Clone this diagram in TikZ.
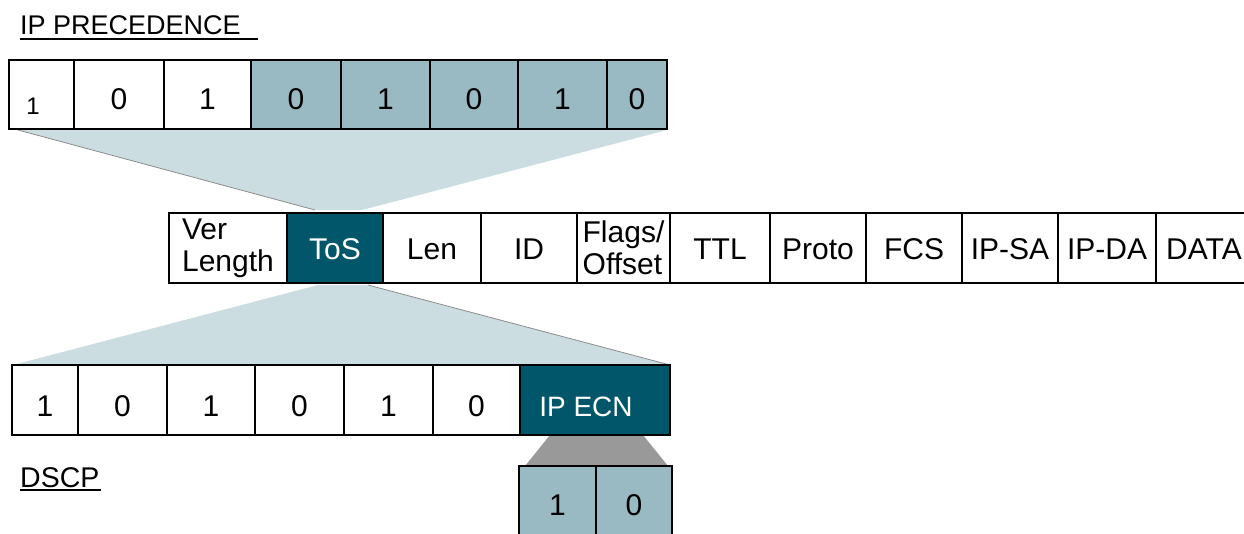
\documentclass[tikz,border=0pt]{standalone}
\usepackage{fontspec}
\setmainfont{Liberation Sans}
\definecolor{lteal}{HTML}{9ABAC3}
\definecolor{dteal}{HTML}{02566A}
\definecolor{funnelc}{HTML}{CBDDE1}
\definecolor{fgray}{HTML}{999999}
\tikzset{
  cellat/.style n args={4}{minimum width={#2-#1}, minimum height={#4-#3}, at={({(#1+#2)/2},{(#3+#4)/2})}},
  cell/.style={draw=black, line width=2.4pt, inner sep=0pt, fill=white, font=\fontsize{30}{32}\selectfont},
  topc/.style={cell, text height=29pt, text depth=0pt},
  midc/.style={cell, text height=22pt, text depth=0pt},
  mid2/.style={cell, align=left},
  botc/.style={cell, text height=32pt, text depth=0pt},
  ecnc/.style={cell, fill=lteal, text height=0pt, text depth=0pt},
  hi/.style={fill=lteal},
  dark/.style={fill=dteal, text=white},
  hdr/.style={inner sep=0pt, anchor=base west},
  uline/.style={draw=black, line width=2pt},
  edge/.style={draw=black!45, line width=0.8pt},
}
\begin{document}
\begin{tikzpicture}[x=1pt,y=-1pt]
\useasboundingbox (0,0) rectangle (1244,533);
\clip (0,0) rectangle (1244,533);
% funnels
\coordinate (fa1) at (18,130);
\coordinate (fa2) at (667,130);
\coordinate (fa3) at (362,210);
\coordinate (fa4) at (315,210);
\fill[funnelc] (fa1) -- (fa2) -- (fa3) -- (fa4) -- cycle;
\draw[edge] (fa1) -- (fa4);
\coordinate (fb1) at (318,285);
\coordinate (fb2) at (368,285);
\coordinate (fb3) at (670,365);
\coordinate (fb4) at (13,365);
\fill[funnelc] (fb1) -- (fb2) -- (fb3) -- (fb4) -- cycle;
\draw[edge] (fb2) -- (fb3);
\coordinate (fc1) at (550,435);
\coordinate (fc2) at (643,435);
\coordinate (fc3) at (668,466);
\coordinate (fc4) at (525,466);
\fill[fgray] (fc1) -- (fc2) -- (fc3) -- (fc4) -- cycle;
% headers
\node[hdr, font=\fontsize{27}{30}\selectfont] (prec) at (20,34) {IP PRECEDENCE};
\draw[uline] (prec.base west) ++(0,5) -- ++(238,0);
\node[hdr, font=\fontsize{28.5}{32}\selectfont] (dscp) at (20,487) {DSCP};
\draw[uline] (dscp.base west) ++(0,3) -- ++(81,0);
% top row
\node[topc, cellat={9}{74}{60}{129}] (t1) {};
\node[inner sep=0pt, anchor=base, font=\fontsize{24}{28}\selectfont] (t1l) at (33,114) {1};
\node[topc, cellat={74}{164}{60}{129}] (t2) {0};
\node[topc, cellat={164}{251}{60}{129}] (t3) {1};
\node[topc, hi, cellat={251}{341}{60}{129}] (t4) {0};
\node[topc, hi, cellat={341}{430}{60}{129}] (t5) {1};
\node[topc, hi, cellat={430}{518}{60}{129}] (t6) {0};
\node[topc, hi, cellat={518}{607}{60}{129}] (t7) {1};
\node[topc, hi, cellat={607}{667}{60}{129}] (t8) {0};
% middle row
\node[mid2, cellat={169}{287}{213}{283}] (m1) {Ver\\Length};
\node[midc, dark, cellat={287}{383}{213}{283}] (m2) {ToS};
\node[midc, cellat={383}{481}{213}{283}] (m3) {Len};
\node[midc, cellat={481}{577}{213}{283}] (m4) {ID};
\node[mid2, cellat={577}{670}{213}{283}] (m5) {Flags/\\Offset};
\node[midc, cellat={670}{770}{213}{283}] (m6) {TTL};
\node[midc, cellat={770}{866}{213}{283}] (m7) {Proto};
\node[midc, cellat={866}{962}{213}{283}] (m8) {FCS};
\node[midc, cellat={962}{1058}{213}{283}] (m9) {IP-SA};
\node[midc, cellat={1058}{1156}{213}{283}] (m10) {IP-DA};
\node[midc, cellat={1156}{1252}{213}{283}] (m11) {DATA};
% bottom row
\node[botc, cellat={12}{78}{365}{435}] (b1) {1};
\node[botc, cellat={78}{167}{365}{435}] (b2) {0};
\node[botc, cellat={167}{255}{365}{435}] (b3) {1};
\node[botc, cellat={255}{344}{365}{435}] (b4) {0};
\node[botc, cellat={344}{433}{365}{435}] (b5) {1};
\node[botc, cellat={433}{520}{365}{435}] (b6) {0};
\node[botc, dark, font=\fontsize{28}{32}\selectfont, cellat={520}{670}{365}{435}] (b7) {IP ECN\kern18pt};
% ECN bits
\node[ecnc, cellat={519}{596}{466}{564}] (e1) {1};
\node[ecnc, cellat={596}{672}{466}{564}] (e2) {0};
\end{tikzpicture}
\end{document}
